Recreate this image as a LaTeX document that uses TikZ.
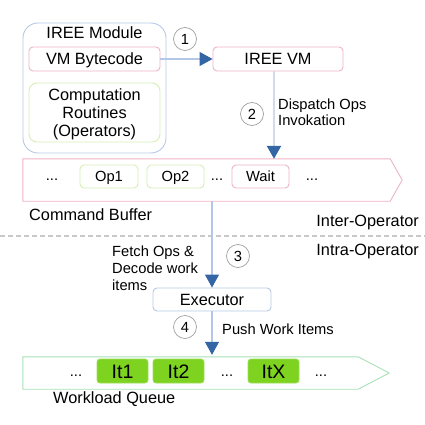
\documentclass[tikz,border=0pt]{standalone}
\usepackage{fontspec}
\setmainfont{Liberation Sans}
\usetikzlibrary{arrows.meta,calc}
\definecolor{pinkc}{HTML}{EFB3C6}
\definecolor{greenc}{HTML}{D4EEB4}
\definecolor{mintc}{HTML}{A8E0B8}
\definecolor{bluec}{HTML}{B4C8E4}
\definecolor{linec}{HTML}{B4C7E7}
\definecolor{line2c}{HTML}{D3DBE8}
\definecolor{headc}{HTML}{3465A4}
\definecolor{itemc}{HTML}{7ED321}
\definecolor{itemb}{HTML}{9BDD55}
\definecolor{dashc}{HTML}{C8C8C8}
\definecolor{circc}{HTML}{A0A0A0}
\newcommand\fbig{\fontsize{16.3}{18}\selectfont}
\newcommand\fsm{\fontsize{14.7}{17}\selectfont}
\newcommand\fit{\fontsize{19.5}{22}\selectfont}
\tikzset{
  big/.style={font=\fbig, text height=11.7pt, text depth=0pt, inner sep=0pt},
  small/.style={font=\fsm, text height=10.5pt, text depth=0pt, inner sep=0pt},
  pinkbox/.style={big, draw=pinkc, line width=0.9pt, rounded corners=4pt},
  opbox/.style={small, draw=greenc, line width=0.9pt, rounded corners=4pt},
  waitbox/.style={small, draw=pinkc, line width=0.9pt, rounded corners=4pt},
  itembox/.style={font=\fit, text height=14pt, text depth=0pt, inner sep=0pt, fill=itemc, draw=itemb, line width=0.8pt, rounded corners=3pt, minimum width=51pt, minimum height=24pt},
  numc/.style={circle, draw=circc, line width=0.7pt, minimum size=23pt, inner sep=0pt, font=\fsm, text height=10.5pt, text depth=0pt},
  dotsn/.style={small},
  flow/.style={draw=linec, line width=1.1pt, -{Triangle[length=13pt,width=14pt,color=headc]}},
  flowthick/.style={draw=line2c, line width=2.2pt, -{Triangle[length=13pt,width=14pt,color=headc]}},
}
\begin{document}
\begin{tikzpicture}[x=1pt,y=-1pt]
\useasboundingbox (0,0) rectangle (425,425);
% IREE module
\node[draw=bluec, line width=0.9pt, rounded corners=15pt, minimum width=143pt, minimum height=130pt, inner sep=0pt] (mod) at (94.5,88) {};
\node[big] (modt) at (94.5,32.5) {IREE Module};
\node[pinkbox, minimum width=131pt, minimum height=24pt] (vmb) at (94.5,59) {VM Bytecode};
\node[draw=greenc, line width=0.9pt, rounded corners=8pt, minimum width=131pt, minimum height=59pt, inner sep=0pt, font=\fbig, align=center, text height=47.7pt, text depth=0pt] (comp) at (94.5,112.5) {Computation\\Routines\\(Operators)};
% IREE VM
\node[pinkbox, minimum width=130pt, minimum height=24pt] (vm) at (278,59) {IREE VM};
\draw[flow] (vmb.east) -- (vm.west);
\node[numc] (n1) at (185,39) {1};
% command buffer
\node[minimum width=367pt, minimum height=42pt, inner sep=0pt] (cb) at (206.5,180) {};
\draw[draw=pinkc, line width=0.9pt] (cb.north west) -- (cb.north east) -- ($(cb.east)+(12,0)$) -- (cb.south east) -- (cb.south west) -- cycle;
\coordinate (vmout) at ($(vm.south)+(-4,0)$);
\draw[flowthick] (vmout) -- (vmout |- cb.north);
\node[numc] (n2) at (252,114) {2};
\node[font=\fontsize{14.7}{16}\selectfont, anchor=base west, align=left, inner sep=0pt] (disp) at (278,125) {Dispatch Ops\\Invokation};
\node[dotsn] (d1) at (52,175) {...};
\node[opbox, minimum width=58pt, minimum height=23pt] (op1) at (109,176.5) {Op1};
\node[opbox, minimum width=57pt, minimum height=23pt] (op2) at (175.5,176.5) {Op2};
\node[dotsn] (d2) at (217,175) {...};
\node[waitbox, minimum width=57pt, minimum height=23pt] (wait) at (260.5,176.5) {Wait};
\node[dotsn] (d3) at (312,175) {...};
\node[font=\fbig, anchor=base west, inner sep=0pt] (cbl) at (29,220) {Command Buffer};
\node[font=\fbig, anchor=base east, inner sep=0pt] (inter) at (419,226) {Inter-Operator};
% divider
\coordinate (dl) at (0,236);
\coordinate (dr) at (425,236);
\draw[dashc, line width=1.2pt, dash pattern=on 5pt off 3pt] (dl) -- (dr);
\node[font=\fbig, anchor=base east, inner sep=0pt] (intra) at (419,255) {Intra-Operator};
% executor
\node[draw=bluec, line width=0.9pt, rounded corners=4pt, big, minimum width=118pt, minimum height=23pt] (exec) at (212,299.5) {Executor};
\draw[flow] (exec.north |- cb.south) -- (exec.north);
\node[numc] (n3) at (238,256) {3};
\node[font=\fsm, anchor=base west, align=left, inner sep=0pt] (fetch) at (112,290) {Fetch Ops \&\\Decode work\\items};
% workload queue
\node[minimum width=335pt, minimum height=32pt, inner sep=0pt] (wq) at (190.5,373) {};
\draw[draw=mintc, line width=0.9pt] (wq.north west) -- (wq.north east) -- ($(wq.east)+(31,0)$) -- (wq.south east) -- (wq.south west) -- cycle;
\draw[flow] (exec.south) -- ($(exec.south |- wq.north)+(0,-2)$);
\node[numc] (n4) at (185,327) {4};
\node[font=\fsm, anchor=base west, inner sep=0pt] (push) at (222,334) {Push Work Items};
\node[dotsn] (e1) at (76,371.5) {...};
\node[itembox] (it1) at (122.5,371) {It1};
\node[itembox] (it2) at (178.5,371) {It2};
\node[dotsn] (e2) at (227,371.5) {...};
\node[itembox] (itx) at (273.5,371) {ItX};
\node[dotsn] (e3) at (321,371.5) {...};
\node[font=\fbig, anchor=base west, inner sep=0pt] (wql) at (53,403) {Workload Queue};
\end{tikzpicture}
\end{document}
